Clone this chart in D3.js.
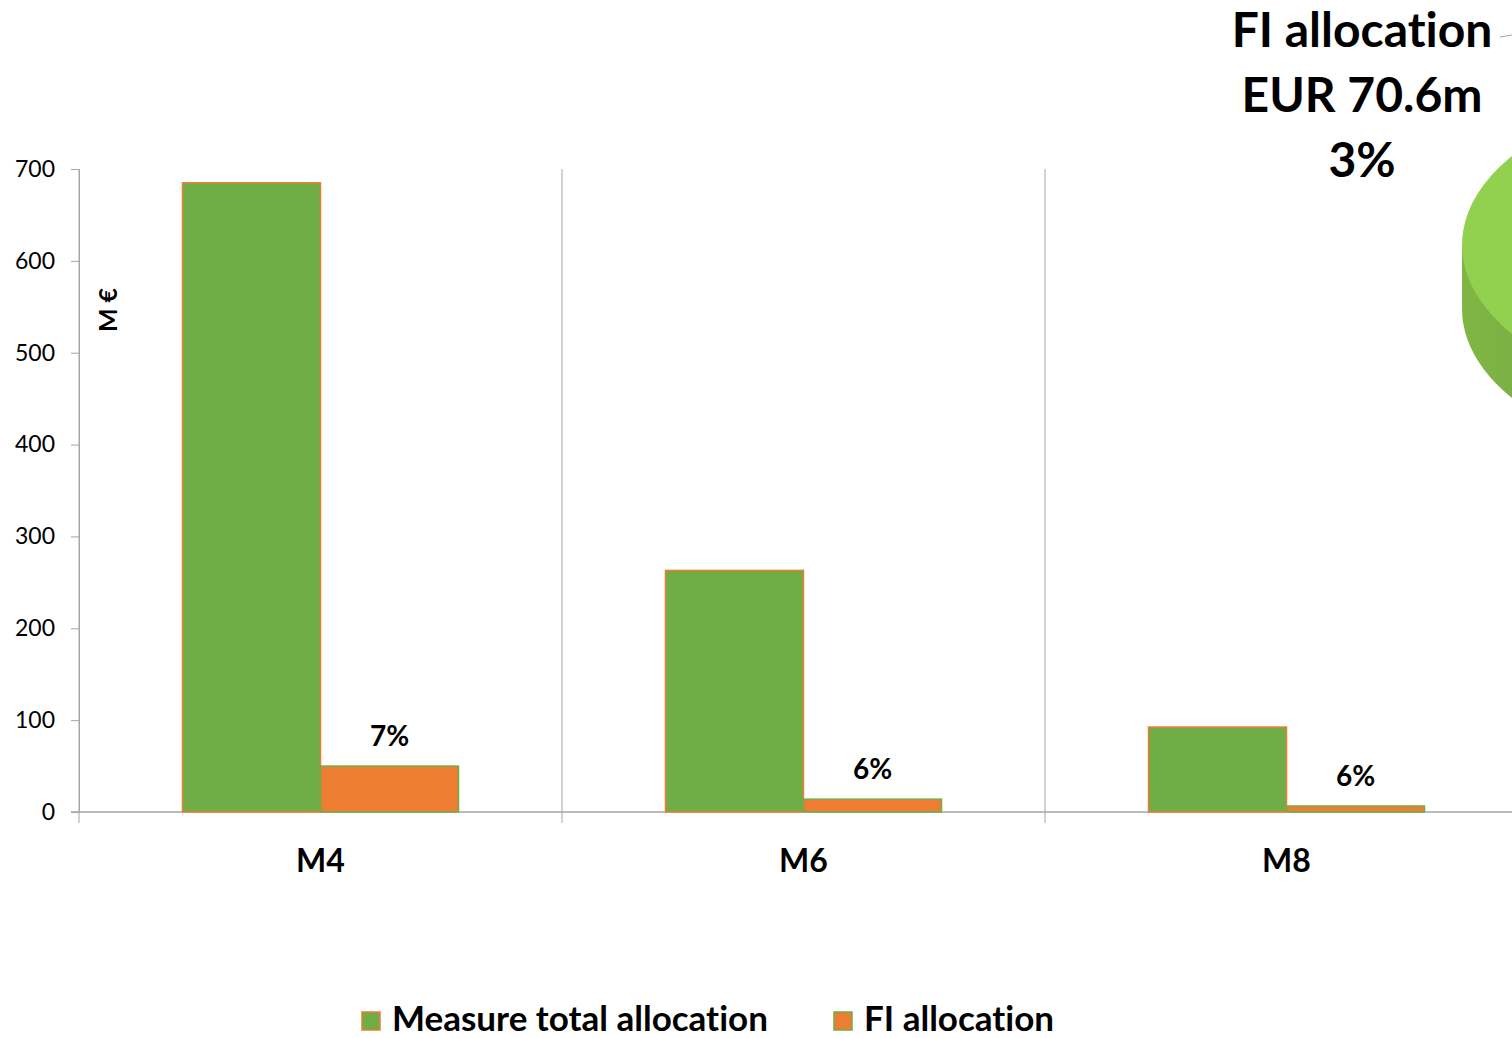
<html lang="en">
<head>
<meta charset="UTF-8">
<title>FI allocation by measure</title>
<style>
  body { margin: 0; background: #fff; }
  svg { display: block; font-family: Lato, "Open Sans", sans-serif; font-variant-ligatures: none; }
</style>
</head>
<body>
<div id="chart"></div>
<script src="https://d3js.org/d3.v7.min.js"></script>
<script>
const measures = ["M4", "M6", "M8"];
const series = ["Measure total allocation", "FI allocation"];
const totalAllocation = [685, 263, 92.5];
const fiAllocation = [50, 14, 6.5];
const fiShare = ["7%", "6%", "6%"];
const yTicks = [0, 100, 200, 300, 400, 500, 600, 700];
const pieValues = [70.6, 2282];
const pieLabel = ["FI allocation", "EUR 70.6m", "3%"];

const W = 1512, H = 1038;
const green = "#70ad47", orange = "#ed7d31";
const fills = [green, orange];
const strokes = [orange, green];

const svg = d3.select("#chart").append("svg").attr("width", W).attr("height", H);

const y = d3.scaleLinear().domain([0, 700]).range([812, 169]);
const x0 = d3.scaleBand().domain(measures).range([79, 79 + 483 * 3]).paddingInner(0);
const x1 = d3.scaleBand().domain(series).range([0, x0.bandwidth()]).paddingInner(0).paddingOuter(0.75);

// pie (3D, mostly cut off at the right edge)
const pie = svg.append("g");
const cx = 1750, cy = 245, rx = 288, ry = 158, depth = 64;
const sideGrad = svg.append("defs").append("linearGradient").attr("id", "side")
  .attr("x1", 0).attr("x2", 1).attr("y1", 0).attr("y2", 0);
sideGrad.append("stop").attr("offset", "0").attr("stop-color", "#80b646");
sideGrad.append("stop").attr("offset", "0.2").attr("stop-color", "#76aa3e");
pie.append("ellipse").attr("cx", cx).attr("cy", cy + depth).attr("rx", rx).attr("ry", ry).attr("fill", "url(#side)");
pie.append("rect").attr("x", cx - rx).attr("y", cy).attr("width", rx * 2).attr("height", depth).attr("fill", "url(#side)");
const slices = d3.pie().sort(null).startAngle(0.15)(pieValues);
const arc = d3.arc().innerRadius(0).outerRadius(rx);
pie.append("g").attr("transform", `translate(${cx},${cy}) scale(1,${ry / rx})`)
  .selectAll("path").data(slices).join("path")
  .attr("d", arc)
  .attr("fill", (d, i) => i === 0 ? orange : "#92d050");

// leader line
svg.append("line").attr("x1", 1500).attr("y1", 37).attr("x2", 1512).attr("y2", 35)
  .attr("stroke", "#a6a6a6").attr("stroke-width", 1);

svg.append("g").selectAll("text").data(pieLabel).join("text")
  .attr("x", 1362).attr("y", (d, i) => 47 + i * 65)
  .attr("text-anchor", "middle").attr("font-weight", "bold").attr("font-size", 48)
  .attr("fill", "#000").text(d => d);

// y axis
const yAxis = svg.append("g").attr("transform", "translate(79,0)")
  .call(d3.axisLeft(y).tickValues(yTicks).tickSize(8).tickPadding(16).tickSizeOuter(0));
yAxis.select(".domain").attr("stroke", "#a6a6a6");
yAxis.selectAll(".tick line").attr("stroke", "#a6a6a6");
yAxis.selectAll(".tick text").attr("font-size", 23).attr("fill", "#000").attr("font-family", "Lato");

// category separators and x axis
const bounds = measures.map(m => x0(m)).concat([x0.range()[1]]);
svg.append("g").selectAll("line").data(bounds).join("line")
  .attr("x1", d => d).attr("x2", d => d).attr("y1", y(700)).attr("y2", 823)
  .attr("stroke", "#a6a6a6").attr("stroke-width", 1);
svg.append("line").attr("x1", 71).attr("x2", W).attr("y1", y(0)).attr("y2", y(0))
  .attr("stroke", "#a6a6a6").attr("stroke-width", 1.5);

// bars
const rows = measures.map((m, i) => ({ m, vals: [totalAllocation[i], fiAllocation[i]], share: fiShare[i] }));
const groups = svg.append("g").selectAll("g").data(rows).join("g")
  .attr("transform", d => `translate(${x0(d.m)},0)`);
groups.selectAll("rect").data(d => d.vals.map((v, j) => ({ s: series[j], v, j }))).join("rect")
  .attr("x", d => x1(d.s)).attr("width", x1.bandwidth())
  .attr("y", d => y(d.v)).attr("height", d => y(0) - y(d.v))
  .attr("fill", d => fills[d.j]).attr("stroke", d => strokes[d.j]).attr("stroke-width", 1.5);
groups.append("text")
  .attr("x", x1(series[1]) + x1.bandwidth() / 2)
  .attr("y", d => y(d.vals[1]) - 20)
  .attr("text-anchor", "middle").attr("font-weight", "bold").attr("font-size", 28)
  .text(d => d.share);

// category labels
svg.append("g").selectAll("text").data(measures).join("text")
  .attr("x", d => x0(d) + x0.bandwidth() / 2).attr("y", 872)
  .attr("text-anchor", "middle").attr("font-weight", "bold").attr("font-size", 32)
  .text(d => d);

// y title
svg.append("text").attr("transform", "translate(117,310) rotate(-90)")
  .attr("text-anchor", "middle").attr("font-weight", "bold").attr("font-size", 25)
  .text("M €");

// legend
const legendX = [362, 834];
const lg = svg.append("g").selectAll("g").data(series).join("g")
  .attr("transform", (d, i) => `translate(${legendX[i]},1012)`);
lg.append("rect").attr("width", 18).attr("height", 18)
  .attr("fill", (d, i) => fills[i]).attr("stroke", (d, i) => strokes[i]).attr("stroke-width", 1.5);
lg.append("text").attr("x", 30).attr("y", 19).attr("font-weight", "bold").attr("font-size", 35)
  .text(d => d);
</script>
</body>
</html>
